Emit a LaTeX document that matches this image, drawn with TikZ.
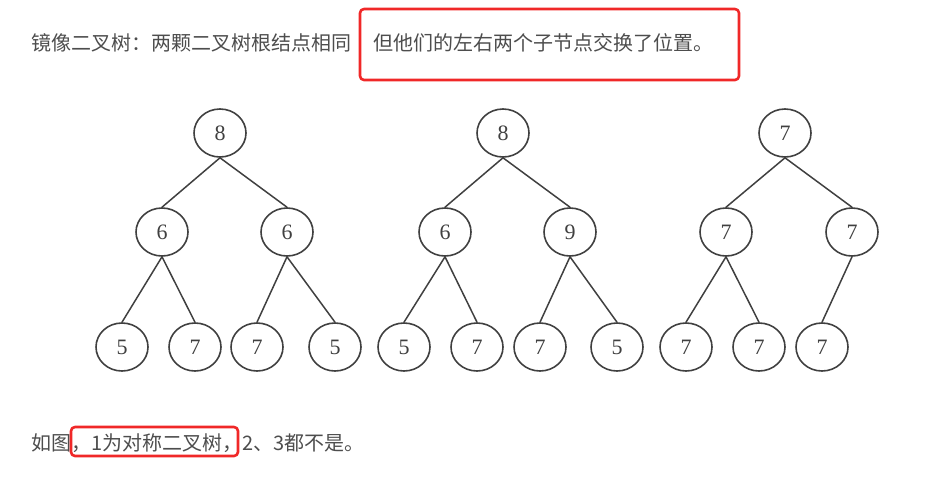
\documentclass[tikz,border=0pt]{standalone}
\usepackage{fontspec}
\setmainfont{Liberation Serif}
\newfontfamily\cjk{Noto Sans CJK SC}
\usetikzlibrary{shapes.geometric}
\definecolor{txtgray}{HTML}{4D4D4D}
\definecolor{boxred}{HTML}{F02828}
\definecolor{treegray}{HTML}{404040}
\begin{document}
\begin{tikzpicture}[x=1pt, y=-1pt, line join=round, line cap=round,
	txt/.style={anchor=west, inner sep=0pt, text=txtgray, font=\cjk\fontsize{20}{20}\selectfont},
	vertex/.style={ellipse, draw=treegray, line width=1.6pt, minimum width=52pt, minimum height=48pt, inner sep=0pt, text=treegray, font=\fontsize{22}{22}\selectfont},
	edge/.style={draw=treegray, line width=1.5pt},
	mark box/.style={draw=boxred, line width=2.6pt, rounded corners=4pt}]
		\useasboundingbox (0,0) rectangle (952,480);
		% texts
		\node[txt] (head) at (31,43) {镜像二叉树：两颗二叉树根结点相同};
		\node[txt] (headb) at (373,43) {但他们的左右两个子节点交换了位置。};
		\node[txt] (foot) at (31,443) {如图，1为对称二叉树，2、3都不是。};
		\draw[mark box] (360,9) rectangle (739,80);
		\draw[mark box] (71,427) rectangle (238,456);
		% tree 1
		\node[vertex] (a) at (220,133) {8};
		\node[vertex] (al) at (162,232) {6};
		\node[vertex] (ar) at (287,232) {6};
		\node[vertex] (all) at (122,347) {5};
		\node[vertex] (alr) at (195,347) {7};
		\node[vertex] (arl) at (257,347) {7};
		\node[vertex] (arr) at (335,347) {5};
		\draw[edge] (a.south)--(al.north) (a.south)--(ar.north);
		\draw[edge] (al.south)--(all.north) (al.south)--(alr.north);
		\draw[edge] (ar.south)--(arl.north) (ar.south)--(arr.north);
		% tree 2
		\node[vertex] (b) at (503,133) {8};
		\node[vertex] (bl) at (445,232) {6};
		\node[vertex] (br) at (570,232) {9};
		\node[vertex] (bll) at (404,347) {5};
		\node[vertex] (blr) at (477,347) {7};
		\node[vertex] (brl) at (540,347) {7};
		\node[vertex] (brr) at (617,347) {5};
		\draw[edge] (b.south)--(bl.north) (b.south)--(br.north);
		\draw[edge] (bl.south)--(bll.north) (bl.south)--(blr.north);
		\draw[edge] (br.south)--(brl.north) (br.south)--(brr.north);
		% tree 3
		\node[vertex] (c) at (785,133) {7};
		\node[vertex] (cl) at (726,232) {7};
		\node[vertex] (cr) at (852,232) {7};
		\node[vertex] (cll) at (686,347) {7};
		\node[vertex] (clr) at (759,347) {7};
		\node[vertex] (crl) at (822,347) {7};
		\draw[edge] (c.south)--(cl.north) (c.south)--(cr.north);
		\draw[edge] (cl.south)--(cll.north) (cl.south)--(clr.north);
		\draw[edge] (cr.south)--(crl.north);
\end{tikzpicture}
\end{document}
